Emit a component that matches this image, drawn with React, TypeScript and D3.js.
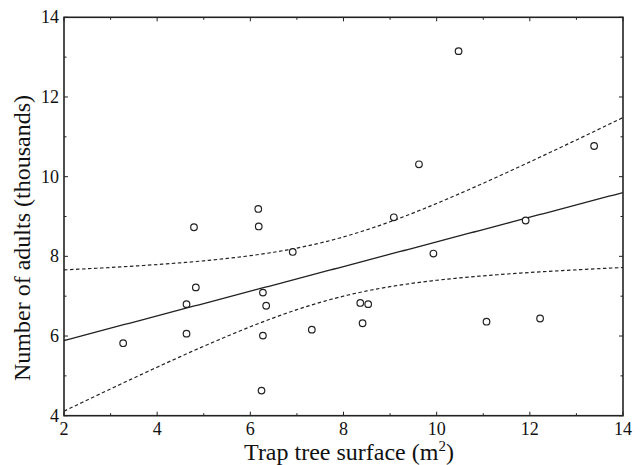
import React from 'react';
import * as d3 from 'd3';

// trap tree surface (m2) and number of adults (thousands)
const surface = [3.27, 4.63, 4.63, 4.79, 4.83, 6.17, 6.18, 6.91, 6.27, 6.34, 6.27, 7.32, 6.24,
  10.47, 13.38, 9.62, 9.08, 11.91, 9.93, 8.36, 8.53, 8.41, 11.07, 12.22];
const adults = [5.82, 6.06, 6.80, 8.73, 7.22, 9.19, 8.75, 8.11, 7.09, 6.76, 6.01, 6.16, 4.63,
  13.15, 10.77, 10.31, 8.98, 8.90, 8.07, 6.83, 6.80, 6.32, 6.36, 6.44];
const xTicks = [2, 4, 6, 8, 10, 12, 14];
const yTicks = [4, 6, 8, 10, 12, 14];
const T_975_22 = 2.074;

const W = 641;
const H = 465;
const m = { left: 64, right: 623, top: 17.3, bottom: 415.7 };
const ink = '#222';
const serif = { fontFamily: "'Liberation Serif'" };

function fit() {
  const n = surface.length;
  const mx = d3.mean(surface)!;
  const my = d3.mean(adults)!;
  let sxx = 0, sxy = 0;
  surface.forEach((x, i) => { sxx += (x - mx) ** 2; sxy += (x - mx) * (adults[i] - my); });
  const b = sxy / sxx;
  const a = my - b * mx;
  let sse = 0;
  surface.forEach((x, i) => { sse += (adults[i] - (a + b * x)) ** 2; });
  const s = Math.sqrt(sse / (n - 2));
  const half = (x: number) => T_975_22 * s * Math.sqrt(1 / n + (x - mx) ** 2 / sxx);
  return { a, b, half };
}

export default function App() {
  const x = d3.scaleLinear().domain([2, 14]).range([m.left, m.right]);
  const y = d3.scaleLinear().domain([4, 14]).range([m.bottom, m.top]);
  const { a, b, half } = fit();
  const grid = d3.range(2, 14.001, 0.1);
  const lineY = (f: (v: number) => number) =>
    d3.line<number>().x(d => x(d)).y(d => y(f(d)))(grid) || '';

  const minorX = d3.range(3, 14, 2);
  const minorY = d3.range(5, 14, 2);

  return (
    <svg width={W} height={H} style={{ position: 'absolute', left: 0, top: 0, background: '#fff' }}>
      <defs>
        <clipPath id="plot">
          <rect x={m.left} y={m.top} width={m.right - m.left} height={m.bottom - m.top} />
        </clipPath>
      </defs>

      <g clipPath="url(#plot)" fill="none" stroke={ink}>
        <path d={lineY(v => a + b * v + half(v))} strokeWidth={1.2} strokeDasharray="3.5,2.5" />
        <path d={lineY(v => a + b * v - half(v))} strokeWidth={1.2} strokeDasharray="3.5,2.5" />
        <path d={lineY(v => a + b * v)} strokeWidth={1.3} />
        {surface.map((sx, i) => (
          <circle key={i} cx={x(sx)} cy={y(adults[i])} r={3.3} strokeWidth={1.2} fill="#fff" />
        ))}
      </g>

      <g stroke={ink} strokeWidth={1}>
        {xTicks.map(t => (
          <g key={'x' + t}>
            <line x1={x(t)} x2={x(t)} y1={m.bottom} y2={m.bottom - 4} />
            <line x1={x(t)} x2={x(t)} y1={m.top} y2={m.top + 4} />
          </g>
        ))}
        {minorX.map(t => (
          <g key={'mx' + t}>
            <line x1={x(t)} x2={x(t)} y1={m.bottom} y2={m.bottom - 2.5} />
            <line x1={x(t)} x2={x(t)} y1={m.top} y2={m.top + 2.5} />
          </g>
        ))}
        {yTicks.map(t => (
          <g key={'y' + t}>
            <line x1={m.left} x2={m.left + 4} y1={y(t)} y2={y(t)} />
            <line x1={m.right} x2={m.right - 4} y1={y(t)} y2={y(t)} />
          </g>
        ))}
        {minorY.map(t => (
          <g key={'my' + t}>
            <line x1={m.left} x2={m.left + 2.5} y1={y(t)} y2={y(t)} />
            <line x1={m.right} x2={m.right - 2.5} y1={y(t)} y2={y(t)} />
          </g>
        ))}
      </g>
      <rect x={m.left} y={m.top} width={m.right - m.left} height={m.bottom - m.top}
        fill="none" stroke={ink} strokeWidth={1.6} />

      {xTicks.map(t => (
        <text key={'xl' + t} x={x(t)} y={435} textAnchor="middle" fontSize={18} fill="#111" style={serif}>{t}</text>
      ))}
      {yTicks.map(t => (
        <text key={'yl' + t} x={59} y={y(t) + 6} textAnchor="end" fontSize={18} fill="#111" style={serif}>{t}</text>
      ))}

      <text x={349} y={460} textAnchor="middle" style={serif} fontSize={24} fill="#111">
        Trap tree surface (m<tspan dy={-9} fontSize={15}>2</tspan><tspan dy={9}>)</tspan>
      </text>
      <text transform={`translate(30, 238) rotate(-90)`} textAnchor="middle"
        style={serif} fontSize={24} fill="#111">
        Number of adults (thousands)
      </text>
    </svg>
  );
}
